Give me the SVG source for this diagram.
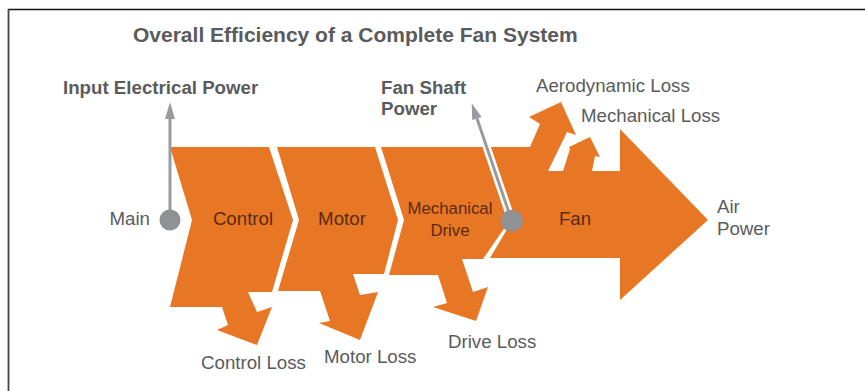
<svg xmlns="http://www.w3.org/2000/svg" width="865" height="391" viewBox="0 0 865 391">
<defs>
<style>
.blk{fill:#E87725;}
.lbl{font-family:"Liberation Sans",Arial,sans-serif;font-size:18.7px;fill:#5a5b5d;}
.bold{font-weight:bold;}
.in{font-family:"Liberation Sans",Arial,sans-serif;font-size:18.7px;fill:#5b2a08;}
.ptr{stroke:#9a9b9e;stroke-width:3;fill:none;}
.halo{stroke:#ffffff;stroke-width:8;fill:none;}
.dot{fill:#909195;}
.head{fill:#9a9b9e;}
</style>
</defs>
<rect width="865" height="391" fill="#ffffff"/>
<line x1="8" y1="9.5" x2="865" y2="9.5" stroke="#111" stroke-width="1.6"/>
<line x1="8.5" y1="9" x2="8.5" y2="391" stroke="#444" stroke-width="1.8"/>
<text class="lbl bold" x="133" y="42" style="font-size:21px">Overall Efficiency of a Complete Fan System</text>

<g id="control">
<polygon class="blk" points="170,147 269,147 293,220 272,292 248,292 257,312 272,307 257,345 217,330 228,325 222,307 170,307 192,220"/>
<text class="in" x="243" y="225" text-anchor="middle">Control</text>
</g>
<g id="motor">
<polygon class="blk" points="277,147 375,147 398,220 384,274 353,274 360,295 378,292 360,340 319,323 330,321 320,291 278,291 299,220"/>
<text class="in" x="342" y="225" text-anchor="middle">Motor</text>
</g>
<g id="drive">
<polygon class="blk" points="381,147 487,147 510,220 483,259 462,259 473,292 488,287 476,321 433,307 447,303 438,275 389,275 404,220"/>
<text class="in" x="450" y="214" text-anchor="middle" style="font-size:16.8px">Mechanical</text>
<text class="in" x="450" y="236" text-anchor="middle" style="font-size:16.8px">Drive</text>
</g>
<g id="fan">
<polygon class="blk" points="487,147 530,147 540,124 529,117 561,102 576,135 567,132 548,171 563,171 570,149 569,147 590,137 600,157 595,156 592,171 620,171 620,129 708,220 620,300 620,258 490,258 512,221"/>
<text class="in" x="575" y="225" text-anchor="middle">Fan</text>
</g>

<g id="connectors">
<line class="ptr" x1="170" y1="220" x2="170" y2="116"/>
<polygon class="head" points="170,102 175,119 165,119"/>
<line class="halo" x1="511.7" y1="220.7" x2="486" y2="145"/>
<line class="ptr" x1="511.7" y1="220.7" x2="477" y2="118.5"/>
<polygon class="head" points="471.7,103.3 481.6,116.9 472.2,120.1"/>
<circle class="dot" cx="170" cy="220" r="10.5"/>
<circle class="dot" cx="511.7" cy="220.7" r="11"/>
</g>

<g id="labels">
<text class="lbl bold" x="63" y="94">Input Electrical Power</text>
<text class="lbl bold" x="381" y="94">Fan Shaft</text>
<text class="lbl bold" x="381" y="115">Power</text>
<text class="lbl" x="536" y="92">Aerodynamic Loss</text>
<text class="lbl" x="581" y="122">Mechanical Loss</text>
<text class="lbl" x="150" y="225" text-anchor="end">Main</text>
<text class="lbl" x="717" y="213">Air</text>
<text class="lbl" x="717" y="235">Power</text>
<text class="lbl" x="201" y="369">Control Loss</text>
<text class="lbl" x="324" y="363">Motor Loss</text>
<text class="lbl" x="448" y="348">Drive Loss</text>
</g>
</svg>
